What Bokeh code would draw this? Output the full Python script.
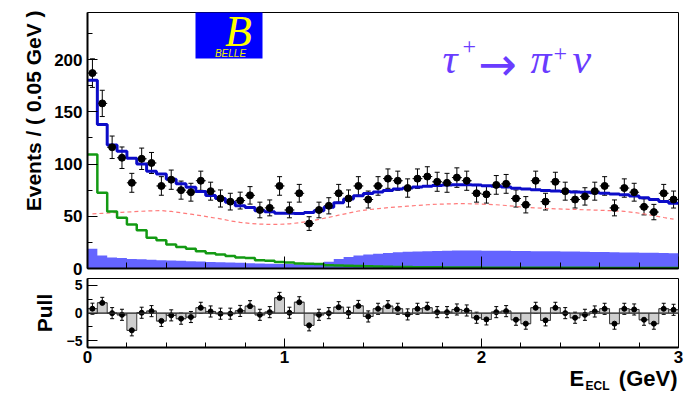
import numpy as np
from bokeh.plotting import figure
from bokeh.models import (ColumnDataSource, Range1d, SingleIntervalTicker, Whisker, TeeHead,
                          Label, BoxAnnotation, Span, Title)
from bokeh.layouts import column
from bokeh.embed import file_html
from bokeh.resources import INLINE

# ---------------- data ----------------
x_min, x_max, bin_width = 0.0, 3.0, 0.05

counts = [187, 158, 116, 106, 82, 105, 101, 79, 85, 75,
          73, 84, 74, 67, 64, 65, 70, 56, 58, 79,
          56, 72, 43, 56, 60, 72, 67, 79, 66, 79,
          86, 84, 77, 86, 88, 83, 82, 87, 84, 72,
          71, 80, 81, 67, 61, 84, 64, 83, 74, 66,
          69, 74, 79, 58, 77, 73, 59, 54, 72, 66]

signal = [109, 72.5, 54.5, 48.5, 42, 36.5, 29.5, 27, 23, 20.5,
          18.8, 16.6, 14.5, 13.5, 12, 10.5, 10, 8, 7.5, 6.2,
          5.8, 4.8, 4.5, 4.2, 3.2, 2.9, 2.6, 2.3, 2.1, 1.9,
          1.7, 1.5, 1.4, 1.3, 1.2, 1.1, 1.0, 1.0, 0.9, 0.9,
          0.8, 0.8, 0.8, 0.7, 0.7, 0.7, 0.7, 0.6, 0.6, 0.6,
          0.6, 0.6, 0.5, 0.5, 0.5, 0.5, 0.5, 0.5, 0.5, 0.5]

bkg_filled = [18.8, 12.4, 10.5, 10, 9.2, 8.8, 8.4, 8, 7.7, 7.3,
              7, 6.6, 6.3, 6, 5.7, 5.4, 5.1, 4.8, 4.6, 4.4,
              4.2, 4.0, 3.8, 4.0, 6.5, 9, 11, 12.4, 13.3, 14,
              14.8, 15.5, 16, 16.3, 16.6, 16.8, 17, 17.2, 17.2, 17.2,
              17.1, 17, 16.9, 16.8, 16.7, 16.6, 16.5, 16.4, 16.3, 16.2,
              16.1, 15.9, 15.8, 15.6, 15.4, 15.3, 15.1, 15, 14.8, 14.7]

bkg_dashed = [52.3, 52.8, 53.3, 53.8, 54.3, 54.8, 55.2, 55.4, 54.6, 53.3,
              52, 50.6, 49, 47.5, 45.6, 44.2, 43.2, 42.5, 42.2, 42.3,
              42.8, 43.8, 45.2, 47, 49, 51, 53, 55, 56.3, 57.3,
              58.2, 59, 59.7, 60.4, 61, 61.5, 61.8, 62, 62, 61.8,
              61.4, 61, 60.3, 59.4, 58.6, 58, 57.5, 57.1, 56.8, 56.5,
              56.2, 55.9, 55.6, 55.2, 54.7, 53.6, 52.2, 50.6, 48.8, 47.2]

pulls = [0.8, 1.85, 0, -0.3, -3.1, 0.07, 0.36, -1.4, -0.4, -1.0,
         -0.7, 0.96, 0.3, -0.1, -0.1, 0.4, 1.25, -0.3, 0.18, 2.75,
         0.07, 1.96, -2.2, -0.3, 0, 1.07, 0.07, 1.3, -0.6, 0.78,
         1.25, 0.78, -0.23, 0.78, 0.96, 0.18, 0.18, 0.66, 0.48, -0.83,
         -1.13, 0.18, 0.36, -1.19, -1.9, 0.96, -1.3, 0.96, 0, -0.83,
         -0.3, 0.3, 0.78, -1.9, 0.78, 0.66, -1.19, -1.9, 0.78, 0.6]

y_ticks_interval = 50
pull_ticks_interval = 5
x_ticks_interval = 1
x_tick_values = [0, 1, 2, 3]

# ---------------- derived ----------------
n_bins = len(counts)
edges = x_min + bin_width * np.arange(n_bins + 1)
centers = edges[:-1] + bin_width / 2
cnt = np.array(counts, float)
err = np.sqrt(cnt)
sig = np.array(signal, float)
bf = np.array(bkg_filled, float)
bd = np.array(bkg_dashed, float)
total = sig + bf + bd
pl = np.array(pulls, float)

FONT = "Liberation Sans"
W = 687
LEFT, RIGHT = 87, 9


def style_axes(p, y_label_size, xmaj, xmin_, ymaj, ymin_):
    p.xgrid.visible = False
    p.ygrid.visible = False
    p.outline_line_color = "black"
    p.outline_line_width = 1
    p.background_fill_color = "white"
    p.border_fill_color = "white"
    for ax in (p.xaxis[0], p.yaxis[0]):
        ax.axis_line_width = 2
        ax.axis_line_color = "black"
        ax.major_tick_out = 0
        ax.minor_tick_out = 0
        ax.major_tick_line_color = "black"
        ax.minor_tick_line_color = "black"
        ax.major_label_text_font = FONT
        ax.major_label_text_font_style = "bold"
        ax.major_label_text_color = "black"
    p.xaxis[0].major_tick_in = xmaj
    p.xaxis[0].minor_tick_in = xmin_
    p.yaxis[0].major_tick_in = ymaj
    p.yaxis[0].minor_tick_in = ymin_
    p.yaxis[0].major_label_text_font_size = y_label_size
    p.yaxis[0].major_label_standoff = 5


# ---------------- top panel ----------------
p1 = figure(width=W, height=277, x_range=Range1d(x_min, x_max), y_range=Range1d(0, 245),
            output_backend="svg", toolbar_location=None,
            min_border_left=LEFT, min_border_right=RIGHT, min_border_top=12, min_border_bottom=9)
p1.xaxis[0].ticker = SingleIntervalTicker(interval=x_ticks_interval, num_minor_ticks=5)
p1.yaxis[0].ticker = SingleIntervalTicker(interval=y_ticks_interval, num_minor_ticks=2)
style_axes(p1, "17px", 12, 6, 10, 5)
p1.xaxis[0].major_label_overrides = {v: "" for v in x_tick_values}
p1.xaxis[0].major_label_text_font_size = "1px"
p1.xaxis[0].major_label_standoff = 0

p1.varea_step(x=edges, y1=0, y2=np.append(bf, bf[-1]), step_mode="after",
              fill_color="#6464ff")
p1.line(centers, bd, line_color="#ff7b7b", line_dash="4 3", line_width=1.2)
p1.step(edges, np.append(sig, sig[-1]), mode="after", line_color="#139a13", line_width=2.5)
p1.step(edges, np.append(total, total[-1]), mode="after", line_color="#0c0cc8", line_width=3)

src = ColumnDataSource(dict(x=centers, y=cnt, lo=cnt - err, up=cnt + err,
                            xl=centers - bin_width / 2, xr=centers + bin_width / 2))
p1.add_layout(Whisker(source=src, base="x", lower="lo", upper="up", dimension="height",
                      line_color="black", line_width=1,
                      lower_head=TeeHead(size=5, line_color="black", line_width=1),
                      upper_head=TeeHead(size=5, line_color="black", line_width=1)))
p1.add_layout(Whisker(source=src, base="y", lower="xl", upper="xr", dimension="width",
                      line_color="black", line_width=1, lower_head=None, upper_head=None))
p1.scatter("x", "y", source=src, size=7, color="black")

# y title (left side panel, aligned to the top end)
p1.add_layout(Title(text="Events / ( 0.05 GeV )", align="right", offset=-2, standoff=14,
                    text_font=FONT, text_font_style="bold", text_font_size="21px",
                    text_color="black"), "left")

# Belle logo
p1.add_layout(BoxAnnotation(left=108, right=175, top=258, bottom=210,
                            left_units="screen", right_units="screen",
                            top_units="screen", bottom_units="screen",
                            fill_color="#0000ff", fill_alpha=1.0, line_alpha=0))
p1.add_layout(Label(x=151, y=237, x_units="screen", y_units="screen", text="B",
                    text_align="center", text_baseline="middle",
                    text_font="Liberation Serif", text_font_style="italic",
                    text_font_size="44px", text_color="#ffff00"))
p1.add_layout(Label(x=143, y=215, x_units="screen", y_units="screen", text="BELLE",
                    text_align="center", text_baseline="middle",
                    text_font=FONT, text_font_style="italic",
                    text_font_size="10px", text_color="#f0f000"))

# decay label
PURPLE = "#6a3cff"
for txt, xx, yy, size, font in [
    ("τ", 355, 209.5, "42px", "Liberation Serif"),
    ("+", 375, 222, "24px", "Liberation Serif"),
    ("→", 391, 205, "46px", "DejaVu Sans"),
    ("π", 443, 209.5, "42px", "Liberation Serif"),
    ("+", 466, 215, "24px", "Liberation Serif"),
    ("ν", 485, 209.5, "42px", "Liberation Serif"),
]:
    style = "italic" if txt in ("τ", "π", "ν") else "normal"
    p1.add_layout(Label(x=xx, y=yy, x_units="screen", y_units="screen", text=txt,
                        text_align="left", text_baseline="middle", text_font=font,
                        text_font_style=style, text_font_size=size, text_color=PURPLE))

# ---------------- pull panel ----------------
p2 = figure(width=W, height=93, x_range=p1.x_range, y_range=Range1d(-6.2, 6.25),
            output_backend="svg", toolbar_location=None,
            min_border_left=LEFT, min_border_right=RIGHT, min_border_top=1, min_border_bottom=23)
p2.xaxis[0].ticker = SingleIntervalTicker(interval=x_ticks_interval, num_minor_ticks=5)
p2.yaxis[0].ticker = SingleIntervalTicker(interval=pull_ticks_interval, num_minor_ticks=2)
style_axes(p2, "14px", 9, 5, 10, 5)
p2.xaxis[0].major_label_text_font_size = "17px"
p2.xaxis[0].major_label_standoff = 3
p2.yaxis[0].axis_label = "Pull"
p2.yaxis[0].axis_label_text_font = FONT
p2.yaxis[0].axis_label_text_font_style = "bold"
p2.yaxis[0].axis_label_text_font_size = "21px"
p2.yaxis[0].axis_label_text_color = "black"
p2.yaxis[0].axis_label_standoff = 8

p2.quad(left=edges[:-1], right=edges[1:], bottom=0, top=pl,
        fill_color="#cfcfcf", line_color="#3a3a3a", line_width=1)
p2.add_layout(Span(location=0, dimension="width", line_color="#3a3a3a", line_width=1))

psrc = ColumnDataSource(dict(x=centers, y=pl, lo=pl - 1, up=pl + 1,
                             xl=centers - bin_width / 2, xr=centers + bin_width / 2))
p2.add_layout(Whisker(source=psrc, base="x", lower="lo", upper="up", dimension="height",
                      line_color="black", line_width=1,
                      lower_head=TeeHead(size=4, line_color="black", line_width=1),
                      upper_head=TeeHead(size=4, line_color="black", line_width=1)))
p2.add_layout(Whisker(source=psrc, base="y", lower="xl", upper="xr", dimension="width",
                      line_color="black", line_width=1, lower_head=None, upper_head=None))
p2.scatter("x", "y", source=psrc, size=5, color="black")

# ---------------- x title strip (frame aligned with the panels above) ----------------
p3 = figure(width=W, height=23, x_range=Range1d(LEFT, W - RIGHT), y_range=Range1d(0, 23),
            x_axis_type=None, y_axis_type=None, output_backend="svg",
            toolbar_location=None, min_border_left=LEFT, min_border_right=RIGHT,
            min_border_top=0, min_border_bottom=0)
p3.outline_line_color = None
p3.background_fill_color = "white"
p3.border_fill_color = "white"
for txt, xx, yy, size, align in [("E", 569, 14.6, "22px", "left"),
                                 ("ECL", 585, 7.5, "12px", "left"),
                                 ("(GeV)", 677, 14.6, "22px", "right")]:
    p3.add_layout(Label(x=xx, y=yy, text=txt, text_align=align, text_baseline="middle",
                        text_font=FONT, text_font_style="bold", text_font_size=size,
                        text_color="black"))

layout = column(p1, p2, p3)
open("out.html", "w").write(file_html(layout, INLINE))
